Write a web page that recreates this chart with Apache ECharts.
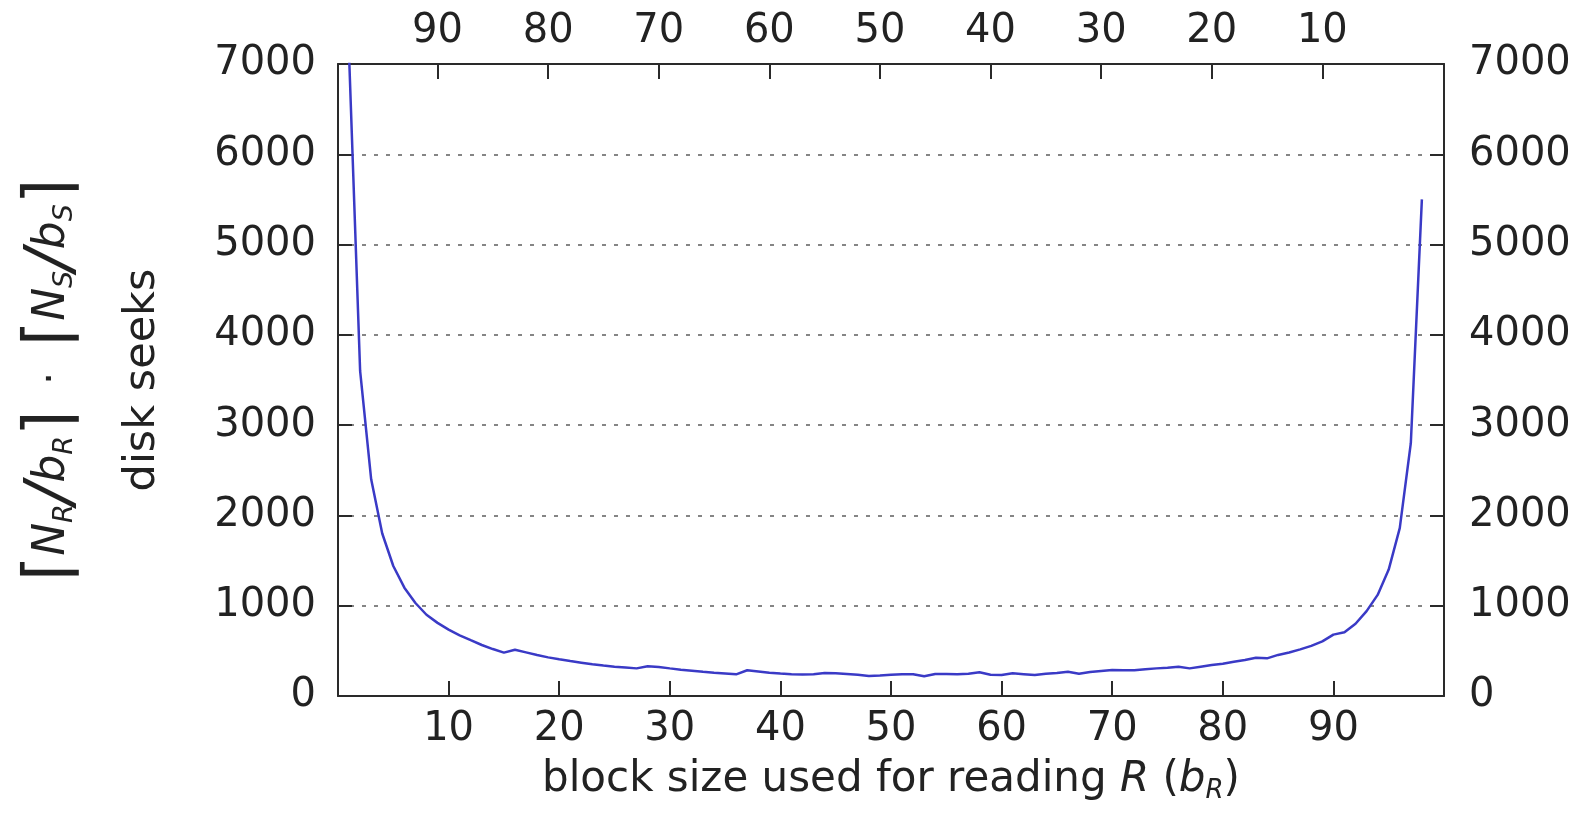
<!DOCTYPE html>
<html>
<head>
<meta charset="utf-8">
<script src="https://cdn.jsdelivr.net/npm/echarts@6/dist/echarts.min.js"></script>
<style>
html,body{margin:0;padding:0;background:#fff;}
#chart{width:1592px;height:816px;}
</style>
</head>
<body>
<div id="chart"></div>
<script>
// block size used for reading R (b_R)
const blockSizeR = [1,2,3,4,5,6,7,8,9,10,11,12,13,14,15,16,17,18,19,20,21,22,23,24,25,26,27,28,29,30,
  31,32,33,34,35,36,37,38,39,40,41,42,43,44,45,46,47,48,49,50,51,52,53,54,55,56,57,58,59,60,
  61,62,63,64,65,66,67,68,69,70,71,72,73,74,75,76,77,78,79,80,81,82,83,84,85,86,87,88,89,90,
  91,92,93,94,95,96,97,98];
// disk seeks  ceil(N_R/b_R) * ceil(N_S/b_S)
const diskSeeks = [7100,3600,2400,1800,1440,1200,1030,900,810,735,672,618,565,520,480,512,483,454,428,406,
  387,369,351,337,325,316,306,330,322,306,292,280,268,258,249,240,285,272,258,248,
  241,237,240,255,251,244,236,222,226,236,240,240,218,244,244,240,247,262,236,232,
  251,242,232,247,255,269,247,266,277,288,284,284,295,306,314,325,306,325,343,358,
  380,399,424,417,455,482,516,555,605,680,705,800,940,1120,1400,1860,2800,5500];
// tick labels
const bottomTicks = [10,20,30,40,50,60,70,80,90];
const topTicks = [90,80,70,60,50,40,30,20,10];   // block size used for S (b_S)
const yTicks = [0,1000,2000,3000,4000,5000,6000,7000];

const FONT = 'DejaVu Sans';
const TXT = '#222';
const AXIS = '#2a2a2a';

const seriesData = blockSizeR.map((b, i) => [b, diskSeeks[i]]);

const chart = echarts.init(document.getElementById('chart'), null, {renderer: 'canvas'});

const subX = {fontFamily: FONT, fontStyle: 'italic', fontSize: 26, color: TXT, lineHeight: 30, padding: [22, 0, 0, 0], verticalAlign: 'middle'};
const subY = {fontFamily: FONT, fontStyle: 'italic', fontSize: 27, color: TXT, lineHeight: 30, padding: [24, 0, 0, 0], verticalAlign: 'middle'};

chart.setOption({
  backgroundColor: '#ffffff',
  animation: false,
  grid: {left: 334, right: 148, top: 64, bottom: 120, containLabel: false},
  xAxis: [
    {
      type: 'value', position: 'bottom', min: 0, max: 100, interval: 10,
      axisLine: {show: true, onZero: false, lineStyle: {color: AXIS, width: 2}},
      axisTick: {show: true, inside: true, length: 15, lineStyle: {color: AXIS, width: 2}},
      axisLabel: {
        show: true, margin: 14, fontFamily: FONT, fontSize: 40, color: TXT,
        showMinLabel: false, showMaxLabel: false,
        formatter: v => bottomTicks.indexOf(v) >= 0 ? String(v) : ''
      },
      splitLine: {show: false},
      name: 'block size used for reading {i|R} ({i|b}{s|R})',
      nameLocation: 'middle', nameGap: 56,
      nameTextStyle: {
        fontFamily: FONT, fontSize: 42, color: TXT, lineHeight: 50,
        rich: {
          i: {fontFamily: FONT, fontStyle: 'italic', fontSize: 42, color: TXT, lineHeight: 50},
          s: subX
        }
      }
    },
    {
      type: 'value', position: 'top', min: -1, max: 99, inverse: true,
      axisLine: {show: true, onZero: false, lineStyle: {color: AXIS, width: 2}},
      axisTick: {show: true, inside: true, length: 15, customValues: topTicks, lineStyle: {color: AXIS, width: 2}},
      axisLabel: {show: true, margin: 12, fontFamily: FONT, fontSize: 40, color: TXT, customValues: topTicks},
      splitLine: {show: false}
    }
  ],
  yAxis: [
    {
      type: 'value', position: 'left', min: 0, max: 7000, interval: 1000,
      axisLine: {show: true, onZero: false, lineStyle: {color: AXIS, width: 2}},
      axisTick: {show: true, inside: true, length: 14, lineStyle: {color: AXIS, width: 2}},
      axisLabel: {show: true, margin: 22, fontFamily: FONT, fontSize: 40, color: TXT,
        formatter: v => yTicks.indexOf(v) >= 0 ? String(v) : ''},
      splitLine: {show: true, lineStyle: {color: '#858585', width: 1.8, type: [4, 8]}},
      name: '{br|⌈}{i|N}{s|R}{sl|/}{i|b}{s|R}{br|⌉}{t|  ·  }{br|⌈}{i|N}{s|S}{sl|/}{i|b}{s|S}{br|⌉}\n{n|disk seeks}',
      nameLocation: 'middle', nameRotate: 90, nameGap: 150,
      nameTextStyle: {
        fontFamily: FONT, fontSize: 40, color: TXT, lineHeight: 90,
        rich: {
          br: {fontFamily: FONT, fontSize: 66, color: TXT, lineHeight: 90},
          sl: {fontFamily: FONT, fontStyle: 'italic', fontSize: 64, color: TXT, lineHeight: 90},
          i: {fontFamily: FONT, fontStyle: 'italic', fontSize: 44, color: TXT, lineHeight: 90},
          t: {fontFamily: FONT, fontSize: 40, color: TXT, lineHeight: 90},
          s: subY,
          n: {fontFamily: FONT, fontSize: 43, color: TXT, lineHeight: 90}
        }
      }
    },
    {
      type: 'value', position: 'right', min: 0, max: 7000, interval: 1000,
      axisLine: {show: true, onZero: false, lineStyle: {color: AXIS, width: 2}},
      axisTick: {show: true, inside: true, length: 14, lineStyle: {color: AXIS, width: 2}},
      axisLabel: {show: true, margin: 25, fontFamily: FONT, fontSize: 40, color: TXT,
        formatter: v => yTicks.indexOf(v) >= 0 ? String(v) : ''},
      splitLine: {show: false}
    }
  ],
  series: [
    {
      type: 'line', xAxisIndex: 0, yAxisIndex: 0,
      data: seriesData, showSymbol: false, symbol: 'none', clip: true,
      lineStyle: {color: '#3a3ac6', width: 2.5},
      z: 5
    }
  ]
});
</script>
</body>
</html>
